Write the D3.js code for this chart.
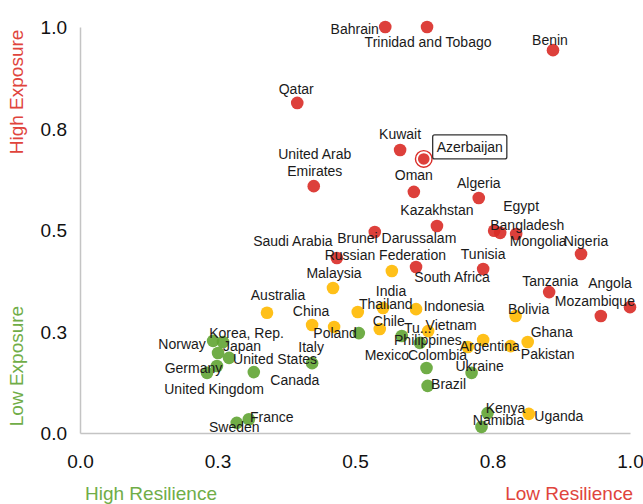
<!DOCTYPE html>
<html>
<head>
<meta charset="utf-8">
<script src="https://cdn.jsdelivr.net/npm/d3@7"></script>
<style>
  html, body { margin: 0; padding: 0; background: #fff; }
  svg { display: block; font-family: "Liberation Sans", Arial, sans-serif; }
</style>
</head>
<body>
<div id="chart"></div>
<script>
// ---- data ----
const tickValues = [0, 0.25, 0.5, 0.75, 1];
const tickLabels = ["0.0", "0.3", "0.5", "0.8", "1.0"];

const highRisk = [
  ["Bahrain", 0.555, 1.000], ["Trinidad and Tobago", 0.631, 1.000], ["Benin", 0.860, 0.943],
  ["Qatar", 0.395, 0.813], ["Kuwait", 0.582, 0.697], ["Azerbaijan", 0.625, 0.675],
  ["United Arab Emirates", 0.425, 0.608], ["Oman", 0.607, 0.594], ["Algeria", 0.725, 0.579],
  ["Kazakhstan", 0.649, 0.510], ["Egypt", 0.753, 0.498], ["Bangladesh", 0.764, 0.493],
  ["Mongolia", 0.793, 0.490], ["Nigeria", 0.911, 0.441], ["Brunei Darussalam", 0.536, 0.495],
  ["Saudi Arabia", 0.467, 0.431], ["South Africa", 0.611, 0.409], ["Tunisia", 0.733, 0.404],
  ["Tanzania", 0.853, 0.347], ["Mozambique", 0.947, 0.288], ["Angola", 1.000, 0.310]
];
const mediumRisk = [
  ["Australia", 0.340, 0.296], ["China", 0.422, 0.266], ["Poland", 0.462, 0.261],
  ["Malaysia", 0.460, 0.357], ["Russian Federation", 0.567, 0.399], ["Thailand", 0.505, 0.298],
  ["India", 0.551, 0.308], ["Chile", 0.545, 0.256], ["Indonesia", 0.611, 0.305],
  ["Vietnam", 0.633, 0.251], ["", 0.733, 0.229], ["Argentina", 0.705, 0.212],
  ["Pakistan", 0.783, 0.214], ["Ghana", 0.814, 0.224], ["Bolivia", 0.792, 0.288],
  ["Uganda", 0.816, 0.047]
];
const lowRisk = [
  ["Mexico", 0.507, 0.246], ["Tu...", 0.585, 0.239], ["Philippines", 0.618, 0.222],
  ["Colombia", 0.630, 0.160], ["Brazil", 0.632, 0.116], ["Ukraine", 0.712, 0.148],
  ["Kenya", 0.741, 0.049], ["Namibia", 0.730, 0.015], ["Norway", 0.242, 0.227],
  ["Korea, Rep.", 0.260, 0.224], ["Japan", 0.251, 0.197], ["United States", 0.271, 0.185],
  ["Germany", 0.249, 0.165], ["United Kingdom", 0.231, 0.148], ["Canada", 0.316, 0.150],
  ["Italy", 0.422, 0.172], ["Sweden", 0.285, 0.025], ["France", 0.307, 0.034]
];
const highlighted = "Azerbaijan";

// ---- label placement (layout, relative to the point, px) ----
const labelOffset = {
  "Bahrain": [-30.5, 2], "Trinidad and Tobago": [1, 15], "Benin": [-3, -10], "Qatar": [-1, -14],
  "Kuwait": [0, -16], "Azerbaijan": [46, -12], "United Arab Emirates": [1, -32], "Oman": [0, -17],
  "Algeria": [0, -15], "Kazakhstan": [0, -16], "Egypt": [27, -25], "Bangladesh": [27, -8],
  "Mongolia": [22, 7], "Nigeria": [5, -13], "Brunei Darussalam": [22, 6], "Saudi Arabia": [-44, -17],
  "South Africa": [36, 10], "Tunisia": [0, -15], "Tanzania": [1, -11], "Mozambique": [-6, -15],
  "Angola": [-20, -24],
  "Australia": [11, -18], "China": [-1, -14], "Poland": [1, 6], "Malaysia": [1, -15],
  "Russian Federation": [-6.5, -16], "Thailand": [28, -8], "India": [8, -17], "Chile": [9, -8],
  "Indonesia": [38, -3], "Vietnam": [23, -6], "Argentina": [22, -1], "Pakistan": [37, 8],
  "Ghana": [24, -10], "Bolivia": [13, -7], "Uganda": [30, 2],
  "Mexico": [28, 22], "Tu...": [16, -8], "Philippines": [8, -3], "Colombia": [11, -13],
  "Brazil": [21, -2], "Ukraine": [8, -7], "Kenya": [18, -5], "Namibia": [17, -7],
  "Norway": [-31, 3], "Korea, Rep.": [23.5, -9], "Japan": [24, -7], "United States": [46, 1],
  "Germany": [-23.5, 2], "United Kingdom": [7, 16], "Canada": [41, 8], "Italy": [-1, -16],
  "Sweden": [-2.5, 4], "France": [23, -2]
};
const lineBreaks = { "United Arab Emirates": ["United Arab", "Emirates"] };

const colors = { high: "#d92b26", medium: "#ffb900", low: "#60a433" };
const redText = "#e0443c", greenText = "#70ad47";

// ---- chart ----
const W = 643, H = 504;
const m = { left: 80, right: 13, top: 27, bottom: 71 };
const svg = d3.select("#chart").append("svg").attr("width", W).attr("height", H);

const x = d3.scaleLinear().domain([0, 1]).range([m.left, W - m.right]);
const y = d3.scaleLinear().domain([0, 1]).range([H - m.bottom, m.top]);

const fmt = v => tickLabels[tickValues.indexOf(v)];

const xAxis = svg.append("g").attr("transform", `translate(0,${y(0)})`)
  .call(d3.axisBottom(x).tickValues(tickValues).tickFormat(fmt).tickSize(0).tickPadding(22));
const yAxis = svg.append("g").attr("transform", `translate(${x(0)},0)`)
  .call(d3.axisLeft(y).tickValues(tickValues).tickFormat(fmt).tickSize(0).tickPadding(13));
[xAxis, yAxis].forEach(a => {
  a.select(".domain").attr("stroke", "#c4c4c4").attr("stroke-width", 1.5);
  a.selectAll("text").attr("fill", "#111").style("font-size", "19px")
    .style("font-family", "'Liberation Sans', Arial, sans-serif");
});
yAxis.selectAll("text").attr("dy", "0.35em");

// axis titles
svg.append("text").attr("transform", `translate(23,${y(0.84)}) rotate(-90)`)
  .attr("text-anchor", "middle").attr("fill", redText).style("font-size", "19px").text("High Exposure");
svg.append("text").attr("transform", `translate(23,${y(0.165)}) rotate(-90)`)
  .attr("text-anchor", "middle").attr("fill", greenText).style("font-size", "19px").text("Low Exposure");
svg.append("text").attr("x", 85).attr("y", 500).attr("fill", greenText)
  .style("font-size", "19px").text("High Resilience");
svg.append("text").attr("x", 633).attr("y", 500).attr("text-anchor", "end").attr("fill", redText)
  .style("font-size", "19px").text("Low Resilience");

const all = [
  ...highRisk.map(d => ({ name: d[0], x: d[1], y: d[2], c: colors.high })),
  ...mediumRisk.map(d => ({ name: d[0], x: d[1], y: d[2], c: colors.medium })),
  ...lowRisk.map(d => ({ name: d[0], x: d[1], y: d[2], c: colors.low }))
];

// points
const gp = svg.append("g");
all.forEach(d => {
  if (d.name === highlighted) {
    gp.append("circle").attr("cx", x(d.x)).attr("cy", y(d.y)).attr("r", 8.3)
      .attr("fill", "#fff").attr("stroke", d.c).attr("stroke-width", 1.4);
  }
});
gp.selectAll("circle.pt").data(all).join("circle").attr("class", "pt")
  .attr("cx", d => x(d.x)).attr("cy", d => y(d.y))
  .attr("r", d => d.name === highlighted ? 5.8 : 6.3)
  .attr("fill", d => d.c).attr("fill-opacity", 0.9);

// labels
const gl = svg.append("g").style("font-size", "14px").attr("fill", "#1a1a1a");
all.filter(d => d.name).forEach(d => {
  const off = labelOffset[d.name] || [0, -15];
  const cx = x(d.x) + off[0], cy = y(d.y) + off[1];
  if (d.name === highlighted) {
    const t = gl.append("text").attr("x", cx).attr("y", cy + 5).attr("text-anchor", "middle").text(d.name);
    const bb = t.node().getBBox();
    gl.insert("rect", "text").attr("x", bb.x - 4).attr("y", cy - 12).attr("width", bb.width + 8)
      .attr("height", 24).attr("rx", 2).attr("fill", "#fff").attr("stroke", "#333").attr("stroke-width", 1.3);
    return;
  }
  const lines = lineBreaks[d.name] || [d.name];
  lines.forEach((ln, i) => {
    gl.append("text").attr("x", cx).attr("y", cy + 5 + i * 17).attr("text-anchor", "middle").text(ln);
  });
});
</script>
</body>
</html>
